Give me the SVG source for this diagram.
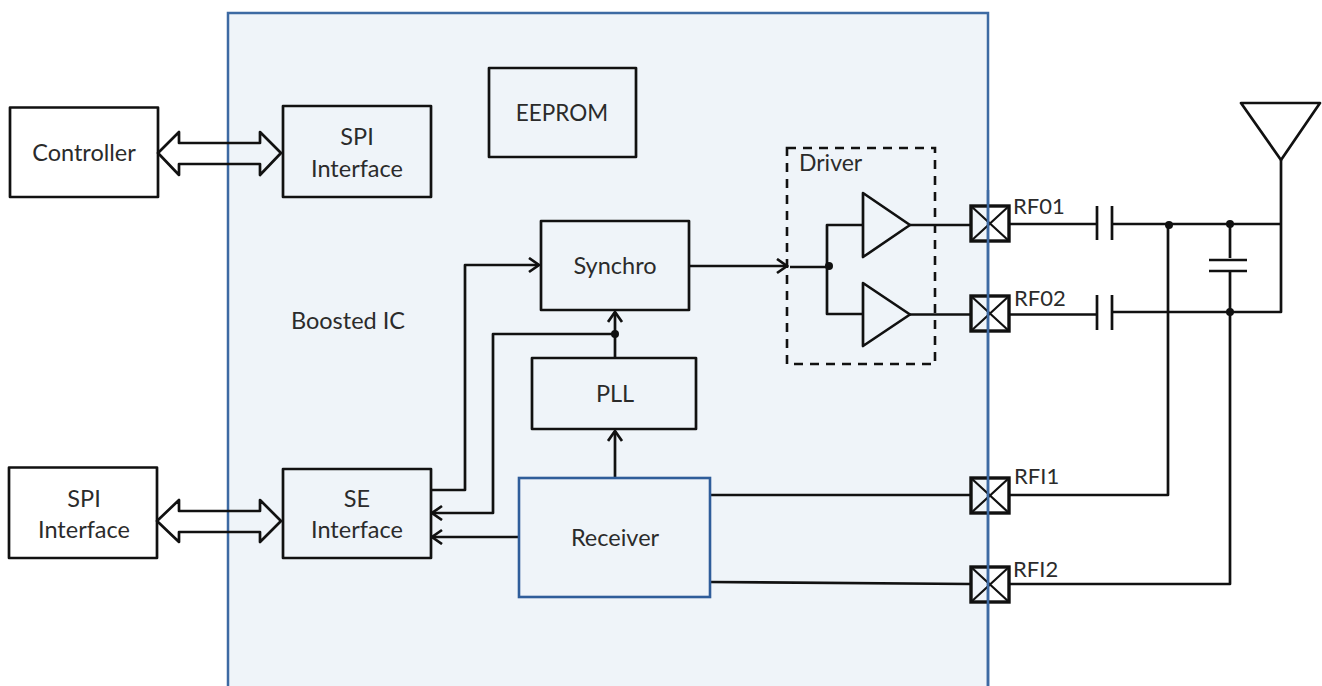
<svg xmlns="http://www.w3.org/2000/svg" width="1322" height="686" viewBox="0 0 1322 686">
<style>
.b{fill:none;stroke:#111;stroke-width:2.7;stroke-linejoin:round}
.w{fill:none;stroke:#111;stroke-width:2.7;stroke-linejoin:round}
.t{font-family:"Lato","Open Sans",sans-serif;font-size:23.500px;fill:#2b2b2b;text-anchor:middle}
.l{font-family:"Lato","Open Sans",sans-serif;font-size:22px;fill:#2b2b2b}
.p{fill:none;stroke:#111;stroke-width:3.400}
.x{stroke:#111;stroke-width:2.200}
.d{fill:#111}
</style>
<defs>
<marker id="a" markerUnits="userSpaceOnUse" markerWidth="14" markerHeight="18" refX="12" refY="8" orient="auto"><path d="M2 1L12 8L2 15" fill="none" stroke="#111" stroke-width="2.700"/></marker>
<g id="pad"><rect class="p" x="0" y="0" width="38" height="35"/><path class="x" d="M0 0L38 35M38 0L0 35"/></g>
</defs>
<rect width="1322" height="686" fill="#fff"/>
<g id="boosted-ic"><path d="M228 690V13H988V690" fill="#eff4f9" stroke="#3d6aa3" stroke-width="2.500"/><text class="t" x="348" y="329">Boosted IC</text></g>
<g id="connectors">
<path class="w" d="M158 153L179 132V143H260V132L281 153L260 175V164H179V175Z"/>
<path class="w" d="M157 521L179 500V511H260V500L281 521L260 542V532H179V542Z"/>
<path class="w" d="M431 490H465V265H539" marker-end="url(#a)"/>
<path class="w" d="M615 334H493V513H432" marker-end="url(#a)"/>
<path class="w" d="M519 537H432" marker-end="url(#a)"/>
<path class="w" d="M615 478V431" marker-end="url(#a)"/>
<path class="w" d="M615 358V312" marker-end="url(#a)"/>
<path class="w" d="M689 266H787" marker-end="url(#a)"/>
<path class="w" d="M790 267H829M863 225H827V314H863"/>
<path class="w" d="M910 225H970M910 314.500H970"/>
<path class="w" d="M710 495H970M710 582L970 584"/>
<path class="w" d="M1009 224H1097M1112 224H1281M1009 314.500H1097M1112 312H1281V160"/>
<path class="w" d="M1009 495H1168V224M1009 584H1230V271M1230 224V258"/>
<circle class="d" cx="615" cy="334" r="4"/><circle class="d" cx="829" cy="266" r="4"/>
<circle class="d" cx="1169" cy="225" r="4"/><circle class="d" cx="1230" cy="224" r="4"/><circle class="d" cx="1230" cy="312" r="4"/>
</g>
<g id="controller"><rect class="b" x="10" y="107.500" width="148" height="89.500"/><text class="t" x="84" y="161">Controller</text></g>
<g id="spi-interface-in"><rect class="b" x="283" y="106" width="148" height="91"/><text class="t" x="357" y="145">SPI</text><text class="t" x="357" y="177">Interface</text></g>
<g id="spi-interface-out"><rect class="b" x="9" y="467.500" width="148" height="90.500"/><text class="t" x="84" y="507">SPI</text><text class="t" x="84" y="538">Interface</text></g>
<g id="se-interface"><rect class="b" x="283" y="469" width="148" height="89"/><text class="t" x="357" y="507">SE</text><text class="t" x="357" y="538">Interface</text></g>
<g id="eeprom"><rect class="b" x="489" y="68" width="147" height="89"/><text class="t" x="562" y="121" style="font-size:22.500px">EEPROM</text></g>
<g id="synchro"><rect class="b" x="541" y="221" width="148" height="89"/><text class="t" x="615" y="274">Synchro</text></g>
<g id="pll"><rect class="b" x="532" y="358" width="164" height="71"/><text class="t" x="615" y="402">PLL</text></g>
<g id="receiver"><rect x="519" y="478" width="191" height="119" fill="#eff4f9" stroke="#2f5d9a" stroke-width="2.600"/><text class="t" x="615" y="546">Receiver</text></g>
<g id="driver"><rect x="787" y="148" width="148" height="216" fill="none" stroke="#111" stroke-width="2.600" stroke-dasharray="9 7"/><text class="l" x="799" y="171" style="font-size:23px">Driver</text>
<path class="w" d="M863 193L910 225L863 257Z"/><path class="w" d="M863 283L910 314.500L863 346Z"/></g>
<g id="rfo1"><use href="#pad" x="971" y="206"/><text class="l" x="1013" y="214">RF01</text></g>
<g id="rfo2"><use href="#pad" x="971" y="296"/><text class="l" x="1014" y="306">RF02</text></g>
<g id="rfi1"><use href="#pad" x="971" y="478"/><text class="l" x="1014" y="484">RFI1</text></g>
<g id="rfi2"><use href="#pad" x="971" y="567"/><text class="l" x="1013" y="577">RFI2</text></g>
<g id="cap-1"><path class="w" d="M1097 206V240M1112 206V240"/></g>
<g id="cap-2"><path class="w" d="M1097 295V330M1112 295V330"/></g>
<g id="cap-3"><path class="w" d="M1209 260H1247M1209 271H1247"/></g>
<g id="antenna"><path class="w" d="M1241 103H1320L1281 160Z"/></g>
<path d="M988 190V690" fill="none" stroke="#3d6aa3" stroke-width="2.500"/>
</svg>
